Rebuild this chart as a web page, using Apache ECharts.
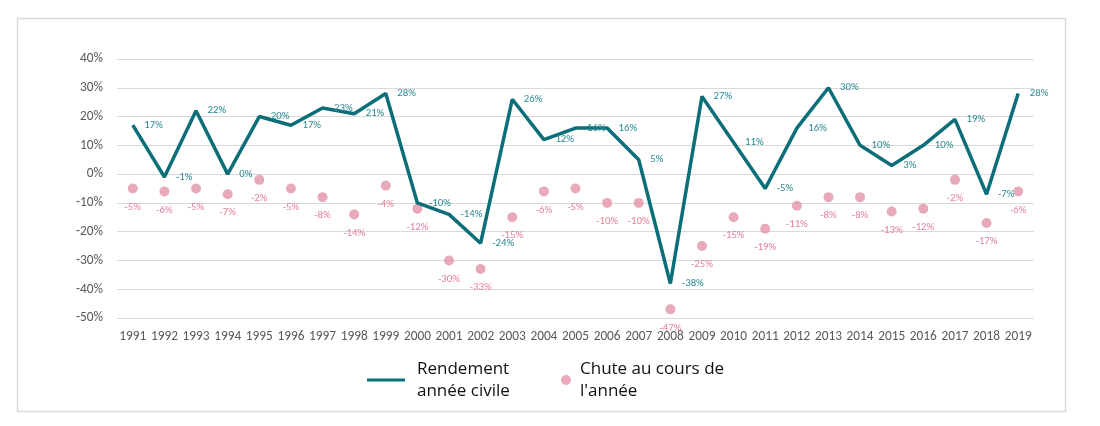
<!DOCTYPE html>
<html><head><meta charset="utf-8">
<script src="https://cdn.jsdelivr.net/npm/echarts@6/dist/echarts.min.js"></script>
<style>html,body{margin:0;padding:0;background:#fff}#c{width:1100px;height:426px}</style>
</head><body><div id="c"></div>
<script>
const years = ['1991','1992','1993','1994','1995','1996','1997','1998','1999','2000','2001','2002','2003','2004','2005','2006','2007','2008','2009','2010','2011','2012','2013','2014','2015','2016','2017','2018','2019'];
const rendement = [17,-1,22,0,20,17,23,21,28,-10,-14,-24,26,12,16,16,5,-38,27,11,-5,16,30,10,3,10,19,-7,28];
const chute = [-5,-6,-5,-7,-2,-5,-8,-14,-4,-12,-30,-33,-15,-6,-5,-10,-10,-47,-25,-15,-19,-11,-8,-8,-13,-12,-2,-17,-6];
const yTicks = [-50,-40,-30,-20,-10,0,10,20,30,40];
const nameLine = 'Rendement année civile';
const nameDot = "Chute au cours de l'année";
const legendText = {};
legendText[nameLine] = 'Rendement\nannée civile';
legendText[nameDot] = "Chute au cours de\nl'année";

const chart = echarts.init(document.getElementById('c'));
const font = 'Carlito, Calibri, Lato, sans-serif';
const legendFont = '"Open Sans", sans-serif';
const legendTextStyle = {fontSize: 17, color:'#111', lineHeight: 22, fontFamily: legendFont};
chart.setOption({
  animation: false,
  textStyle: {fontFamily: font},
  graphic: [{type:'rect', shape:{x:17.5,y:18.5,width:1048,height:393}, style:{fill:'none', stroke:'#d9d9d9', lineWidth:1.5}, silent:true}],
  grid: {left:117, right:66, top:59, bottom:108, containLabel:false},
  legend: [
    {
      top: 358, left: 367, padding: 0, itemWidth: 38, itemHeight: 3,
      formatter: n => legendText[n],
      textStyle: Object.assign({padding:[0,0,0,7]}, legendTextStyle),
      data: [{name: nameLine, icon: 'rect', itemStyle: {color:'#0b6e79', opacity: 1}}]
    },
    {
      top: 358, left: 561, padding: 0, itemWidth: 10, itemHeight: 10,
      formatter: n => legendText[n],
      textStyle: Object.assign({padding:[0,0,0,4]}, legendTextStyle),
      data: [{name: nameDot, icon: 'circle'}]
    }
  ],
  xAxis: {
    type: 'category', data: years, boundaryGap: true,
    axisLine: {show:false}, axisTick: {show:false},
    axisLabel: {color:'#595959', fontSize: 13.3, margin: 12, interval: 0}
  },
  yAxis: {
    type: 'value', min: -50, max: 40, interval: 10,
    axisLabel: {formatter: v => yTicks.includes(v) ? v + '%' : '', color:'#595959', fontSize: 13.3, margin: 14},
    splitLine: {lineStyle: {color:'#d9d9d9', width: 1}},
    axisLine: {show:false}, axisTick: {show:false}
  },
  series: [
    {
      name: nameLine, type: 'line', data: rendement, symbol: 'circle', symbolSize: 1, showSymbol: true,
      lineStyle: {color:'#0b6e79', width: 3.5}, itemStyle: {color:'rgba(11,110,121,0)', borderWidth: 0},
      label: {show: true, position: 'right', distance: 11, formatter: p => p.value + '%', color:'#2a8a93', fontSize: 10.8}
    },
    {
      name: nameDot, type: 'scatter', data: chute, symbol: 'circle', symbolSize: 10,
      itemStyle: {color:'#e295a8'},
      label: {show: true, position: 'bottom', distance: 8, formatter: p => p.value + '%', color:'#d9637f', fontSize: 10.8}
    }
  ]
});
</script></body></html>
